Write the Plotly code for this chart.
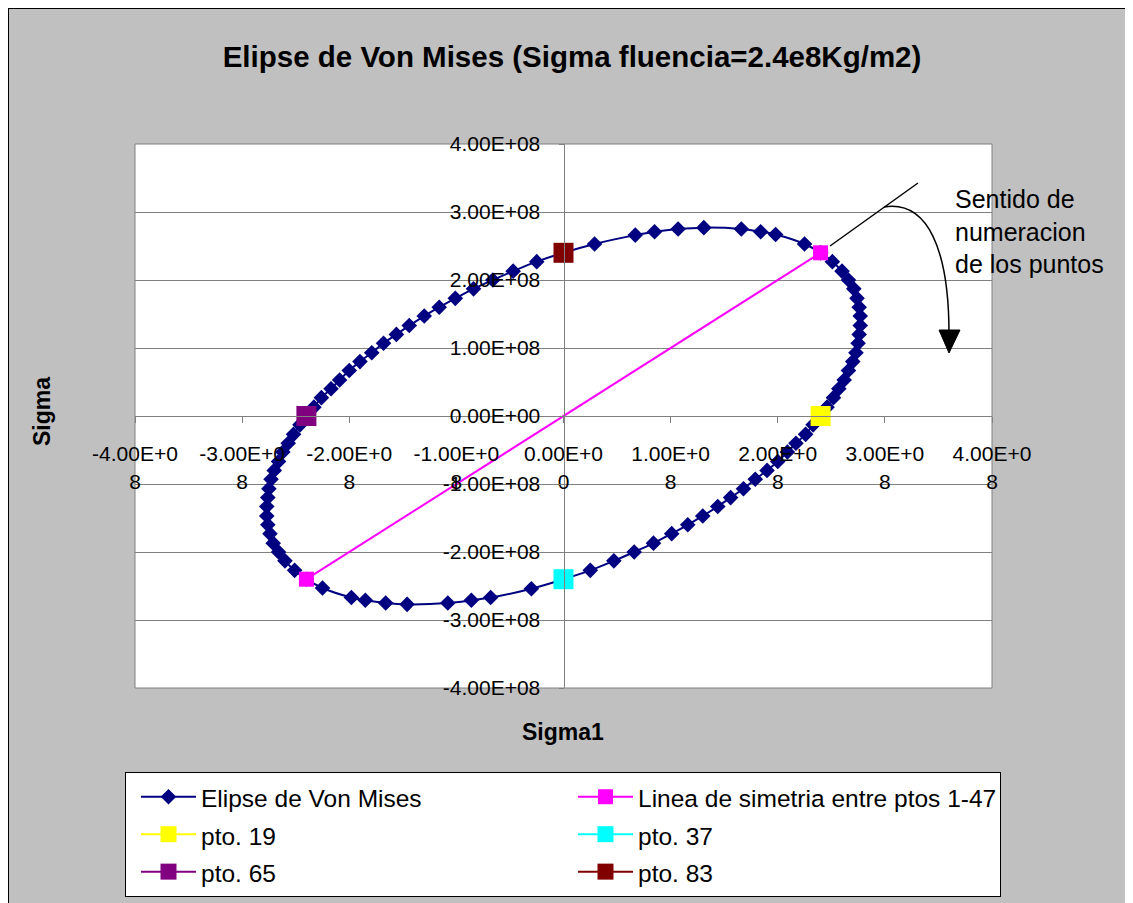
import plotly.graph_objects as go

# ---------------- data (units of 1e8 Kg/m2) ----------------
E8 = 1e8

# points 1..19 (right side, going down)
sigma1_a = [2.40, 2.51, 2.60, 2.66, 2.71, 2.74, 2.76, 2.77, 2.77, 2.76, 2.75, 2.73, 2.70, 2.66, 2.62, 2.57, 2.52, 2.46, 2.40]
sigma2_a = [2.40, 2.27, 2.13, 2.00, 1.87, 1.73, 1.60, 1.47, 1.33, 1.20, 1.07, 0.93, 0.80, 0.67, 0.53, 0.40, 0.27, 0.13, 0.00]
# points 20..37 (lower right)
sigma1_b = [2.33, 2.26, 2.17, 2.09, 2.00, 1.90, 1.79, 1.68, 1.56, 1.44, 1.30, 1.16, 1.01, 0.84, 0.66, 0.47, 0.25, 0.00]
sigma2_b = [-0.13, -0.27, -0.40, -0.53, -0.67, -0.80, -0.93, -1.07, -1.20, -1.33, -1.47, -1.60, -1.73, -1.87, -2.00, -2.13, -2.27, -2.40]
# points 38..46 (bottom)
sigma1_c = [-0.30, -0.68, -0.86, -1.08, -1.46, -1.66, -1.85, -1.98, -2.25]
sigma2_c = [-2.54, -2.67, -2.71, -2.75, -2.77, -2.75, -2.71, -2.67, -2.53]
# points 47..65 (left side, going up)
sigma1_d = [-2.40, -2.51, -2.60, -2.66, -2.71, -2.74, -2.76, -2.77, -2.77, -2.76, -2.75, -2.73, -2.70, -2.66, -2.62, -2.57, -2.52, -2.46, -2.40]
sigma2_d = [-2.40, -2.27, -2.13, -2.00, -1.87, -1.73, -1.60, -1.47, -1.33, -1.20, -1.07, -0.93, -0.80, -0.67, -0.53, -0.40, -0.27, -0.13, 0.00]
# points 66..83 (upper left)
sigma1_e = [-2.33, -2.26, -2.17, -2.09, -2.00, -1.90, -1.79, -1.68, -1.56, -1.44, -1.30, -1.16, -1.01, -0.84, -0.66, -0.47, -0.25, 0.00]
sigma2_e = [0.13, 0.27, 0.40, 0.53, 0.67, 0.80, 0.93, 1.07, 1.20, 1.33, 1.47, 1.60, 1.73, 1.87, 2.00, 2.13, 2.27, 2.40]
# points 84..92 (top) and back to point 1
sigma1_f = [0.29, 0.67, 0.85, 1.07, 1.31, 1.66, 1.84, 1.98, 2.25, 2.40]
sigma2_f = [2.53, 2.66, 2.71, 2.75, 2.77, 2.75, 2.71, 2.67, 2.53, 2.40]

sym_sigma1 = [2.40, -2.40]
sym_sigma2 = [2.40, -2.40]

point_names = ["pto. 19", "pto. 37", "pto. 65", "pto. 83"]
point_sigma1 = [2.40, 0.00, -2.40, 0.00]
point_sigma2 = [0.00, -2.40, 0.00, 2.40]

tick_vals = [-4, -3, -2, -1, 0, 1, 2, 3, 4]
x_tick_text = ["-4.00E+0<br>8", "-3.00E+0<br>8", "-2.00E+0<br>8", "-1.00E+0<br>8", "0.00E+0<br>0",
               "1.00E+0<br>8", "2.00E+0<br>8", "3.00E+0<br>8", "4.00E+0<br>8"]
y_tick_text = ["-4.00E+08", "-3.00E+08", "-2.00E+08", "-1.00E+08", "0.00E+00",
               "1.00E+08", "2.00E+08", "3.00E+08", "4.00E+08"]

# ---------------- styling ----------------
point_colors = ["#FFFF00", "#00FFFF", "#800080", "#800000"]
FONT = "Liberation Sans, Arial, sans-serif"
W, H = 1133, 903
OFF = 8  # page offset of the figure in the screenshot
ML, MT = 127, 136
PW, PH = 857, 544
MR, MB = W - ML - PW, H - MT - PH


def px(x):  # screen pixel -> paper x
    return (x - OFF - ML) / PW


def py(y):  # screen pixel -> paper y
    return (H - MB - (y - OFF)) / PH


def leg(name):  # legend label rendered at 24.5px inside a taller legend row
    return f"<span style='font-size:24.5px'>{name}</span>"


sig1 = [v * E8 for v in sigma1_a + sigma1_b + sigma1_c + sigma1_d + sigma1_e + sigma1_f]
sig2 = [v * E8 for v in sigma2_a + sigma2_b + sigma2_c + sigma2_d + sigma2_e + sigma2_f]

fig = go.Figure()
fig.add_trace(go.Scatter(
    x=sig1, y=sig2, mode="lines+markers", name=leg("Elipse de Von Mises"),
    line=dict(color="#000080", width=2, shape="spline", smoothing=1),
    marker=dict(symbol="diamond", size=12, color="#000080")))
fig.add_trace(go.Scatter(
    x=[v * E8 for v in sym_sigma1], y=[v * E8 for v in sym_sigma2], mode="lines+markers",
    name=leg("Linea de simetria entre ptos 1-47"),
    line=dict(color="#FF00FF", width=2),
    marker=dict(symbol="square", size=15, color="#FF00FF")))
for name, xv, yv, col in zip(point_names, point_sigma1, point_sigma2, point_colors):
    fig.add_trace(go.Scatter(
        x=[xv * E8], y=[yv * E8], mode="lines+markers", name=leg(name),
        line=dict(color=col, width=2),
        marker=dict(symbol="square", size=20, color=col)))

axis_common = dict(
    range=[-4 * E8, 4 * E8], tickvals=[v * E8 for v in tick_vals],
    showline=True, linecolor="#808080", linewidth=1,
    ticks="outside", tickcolor="#808080", zeroline=False,
    tickfont=dict(family=FONT, size=21, color="black"),
    anchor="free", position=0.5, fixedrange=True,
)
fig.update_xaxes(**axis_common, ticktext=x_tick_text, showgrid=False, ticklen=6,
                 ticklabelstandoff=13)
fig.update_yaxes(**axis_common, ticktext=y_tick_text, showgrid=True, gridcolor="#808080",
                 gridwidth=1, ticklen=5, ticklabelstandoff=14)

shapes = [
    # chart frame
    dict(type="rect", xref="paper", yref="paper", x0=px(OFF), x1=px(OFF + W), y0=py(OFF + H), y1=py(OFF),
         line=dict(color="black", width=2), layer="below"),
    # plot area border
    dict(type="rect", xref="paper", yref="paper", x0=0, x1=1, y0=0, y1=1,
         line=dict(color="#808080", width=1), layer="below"),
    # pointer line
    dict(type="line", xref="paper", yref="paper", x0=px(830), y0=py(246), x1=px(918), y1=py(183),
         line=dict(color="black", width=1.5)),
    # curved arrow
    dict(type="path", xref="paper", yref="paper",
         path=f"M {px(884)},{py(207)} C {px(928)},{py(200)} {px(949)},{py(250)} {px(949)},{py(334)}",
         line=dict(color="black", width=1.5)),
    dict(type="path", xref="paper", yref="paper",
         path=f"M {px(939)},{py(330)} L {px(960)},{py(330)} L {px(949)},{py(353)} Z",
         fillcolor="black", line=dict(color="black", width=1)),
]

annotations = [
    dict(text="<b>Sigma1</b>", xref="paper", yref="paper", x=px(563), y=py(732),
         xanchor="center", yanchor="middle",
         showarrow=False, font=dict(family=FONT, size=23, color="black")),
    dict(text="<b>Sigma</b>", xref="paper", yref="paper", x=px(42), y=py(412),
         xanchor="center", yanchor="middle",
         showarrow=False, textangle=-90, font=dict(family=FONT, size=23, color="black")),
    dict(text="Sentido de<br>numeracion<br>de los puntos", xref="paper", yref="paper",
         x=px(953), y=py(183), xanchor="left", yanchor="top", align="left",
         showarrow=False, font=dict(family=FONT, size=25, color="black")),
]

fig.update_layout(
    width=W, height=H, autosize=False,
    margin=dict(l=ML, r=MR, t=MT, b=MB, autoexpand=False),
    paper_bgcolor="#C0C0C0", plot_bgcolor="white",
    font=dict(family=FONT, color="black"),
    title=dict(text="<b>Elipse de Von Mises (Sigma fluencia=2.4e8Kg/m2)</b>",
               x=(572 - OFF) / W, xref="container", xanchor="center",
               y=1 - (57 - OFF) / H, yref="container", yanchor="middle",
               font=dict(family=FONT, size=29.5, color="black")),
    showlegend=True,
    legend=dict(orientation="h", x=px(125), y=py(772), xanchor="left", yanchor="top",
                entrywidth=357, entrywidthmode="pixels", indentation=10,
                bgcolor="white", bordercolor="black", borderwidth=1,
                font=dict(family=FONT, size=26.5, color="black"),
                itemwidth=55, itemclick=False, itemdoubleclick=False),
    shapes=shapes, annotations=annotations,
)

fig.write_html("out.html")
